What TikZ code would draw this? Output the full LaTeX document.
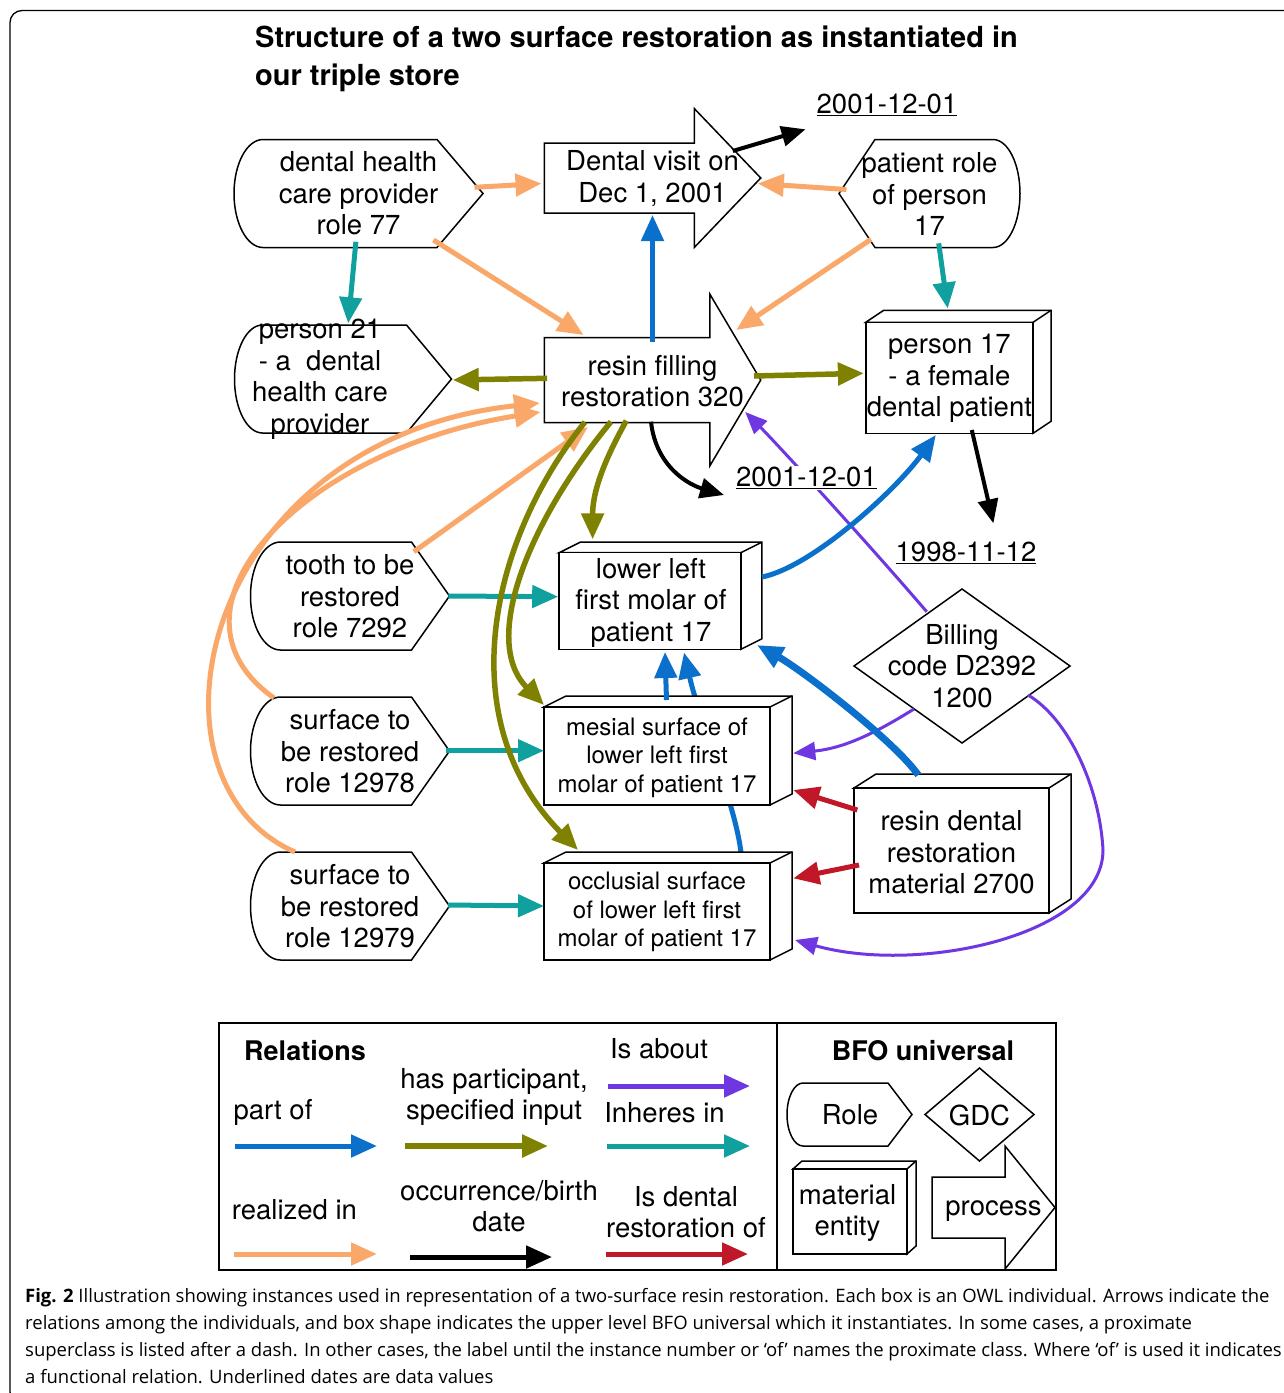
\documentclass[tikz,border=0pt]{standalone}
\usepackage{fontspec}
\setmainfont{TeX Gyre Heros}
\newfontfamily\capfont{Open Sans}
\usetikzlibrary{arrows.meta,calc}
\pgfdeclarelayer{bg}
\pgfsetlayers{bg,main}

\definecolor{corange}{RGB}{249,168,106}
\definecolor{cteal}{RGB}{16,160,158}
\definecolor{cblue}{RGB}{10,112,204}
\definecolor{colive}{RGB}{126,130,0}
\definecolor{cpurple}{RGB}{110,55,225}
\definecolor{cred}{RGB}{192,24,40}

\tikzset{
  shp/.style={draw=black, line width=1.5pt, fill=white, line join=miter},
  txt/.style={inner sep=0pt, align=center, font=\fontsize{27.5}{31.5}\selectfont},
  smalltxt/.style={inner sep=0pt, align=center, font=\fontsize{24}{28.5}\selectfont},
  datetxt/.style={inner sep=1.5pt, fill=white, font=\fontsize{27.5}{31.5}\selectfont},
  tip/.style={-{Triangle[length=26pt,width=22pt]}},
  ora/.style={draw=corange, line width=5pt, tip},
  tea/.style={draw=cteal, line width=5pt, tip},
  blu/.style={draw=cblue, line width=5pt, tip},
  oli/.style={draw=colive, line width=5.5pt, tip},
  blk/.style={draw=black, line width=4pt, -{Triangle[length=24pt,width=20pt]}},
  pur/.style={draw=cpurple, line width=3pt, -{Triangle[length=22pt,width=18pt]}},
  rd/.style={draw=cred, line width=5pt, tip},
}

% role: rounded left, pointed right: cx cy w h r p
\newcommand\roleR[6]{\draw[shp] ({#1-#3/2+#5},{#2-#4/2}) -- ({#1+#3/2-#6},{#2-#4/2}) -- ({#1+#3/2},#2) -- ({#1+#3/2-#6},{#2+#4/2}) -- ({#1-#3/2+#5},{#2+#4/2}) arc[start angle=90,end angle=270,x radius=#5,y radius={#4/2}] -- cycle;}
% role: pointed left, rounded right
\newcommand\roleL[6]{\draw[shp] ({#1-#3/2+#6},{#2-#4/2}) -- ({#1+#3/2-#5},{#2-#4/2}) arc[start angle=-90,end angle=90,x radius=#5,y radius={#4/2}] -- ({#1-#3/2+#6},{#2+#4/2}) -- ({#1-#3/2},#2) -- cycle;}
% process arrow: cx cy w h bodyhalf headlen
\newcommand\procShape[6]{\draw[shp] ({#1-#3/2},{#2-#5}) -- ({#1+#3/2-#6},{#2-#5}) -- ({#1+#3/2-#6},{#2-#4/2}) -- ({#1+#3/2},#2) -- ({#1+#3/2-#6},{#2+#4/2}) -- ({#1+#3/2-#6},{#2+#5}) -- ({#1-#3/2},{#2+#5}) -- cycle;}
% material box: cx cy w h dx dy (front face)
\newcommand\boxShape[6]{%
  \draw[shp] ({#1-#3/2},{#2-#4/2}) -- ++(#5,-#6) -- ++(#3,0) -- ++(0,#4) -- ++(-#5,#6) -- ({#1+#3/2},{#2-#4/2}) -- cycle;
  \draw[shp] ({#1+#3/2},{#2-#4/2}) -- ++(#5,-#6);
  \draw[shp] ({#1-#3/2},{#2-#4/2}) rectangle ({#1+#3/2},{#2+#4/2});}
% diamond: cx cy w h
\newcommand\gdcShape[4]{\draw[shp] (#1,{#2-#4/2}) -- ({#1+#3/2},#2) -- (#1,{#2+#4/2}) -- ({#1-#3/2},#2) -- cycle;}

\begin{document}
\begin{tikzpicture}[x=1pt,y=-1pt]
\useasboundingbox (0,0) rectangle (1284,1393);
\clip (0,0) rectangle (1284,1393);
\begin{pgfonlayer}{bg}
\fill[white] (0,0) rectangle (1284,1393);
\end{pgfonlayer}
\draw[line width=1.3pt, rounded corners=12pt] (1300,1404) -- (10,1404) -- (10,10.5) -- (1300,10.5);

\node[anchor=west, align=left, inner sep=0pt, font=\bfseries\fontsize{29}{38}\selectfont] (title) at (255,59) {Structure of a two surface restoration as instantiated in\\our triple store};

% ---------- shapes ----------
\roleR{358.5}{193.5}{249}{108}{29}{46}
\roleR{343}{379}{217}{108}{28}{45}
\roleL{929.5}{193.5}{181}{108}{27}{36}
\roleR{350}{596}{199}{108}{30}{38}
\roleR{350}{751}{199}{108}{30}{38}
\roleR{350}{906}{199}{108}{30}{38}
\procShape{652.5}{178}{216.5}{139}{35}{66.5}
\procShape{652.5}{380}{216.5}{172}{42.5}{51}
\boxShape{949.4}{377.8}{167.3}{111}{18}{12}
\boxShape{650}{601}{181.7}{96.6}{21}{10.5}
\boxShape{657}{756}{226}{98}{22}{11}
\boxShape{657}{911.5}{226}{97}{22}{11}
\boxShape{951.5}{850.5}{195}{125}{22}{14}
\gdcShape{962}{666}{216}{154}

% ---------- texts ----------
\node[txt] (r77) at (358.5,193.5) {dental health\\care provider\\role 77};
\node[txt] (p21) at (320,379) {person 21\\- a~~dental\\health care\\provider};
\node[txt] (prole) at (929.5,194) {patient role\\of person\\17};
\node[txt] (tooth) at (350,596.5) {tooth to be\\restored\\role 7292};
\node[txt] (s78) at (350,751.5) {surface to\\be restored\\role 12978};
\node[txt] (s79) at (350,906.5) {surface to\\be restored\\role 12979};
\node[txt] (visit) at (652.5,178.5) {Dental visit on\\Dec 1, 2001};
\node[txt] (resin) at (652.5,381) {resin filling\\restoration 320};
\node[txt] (p17) at (949.4,378.5) {person 17\\- a female\\dental patient};
\node[txt] (molar) at (651,602.5) {lower left\\first molar of\\patient 17};
\node[smalltxt] (mesial) at (657,757.5) {mesial surface of\\lower left first\\molar of patient 17};
\node[smalltxt] (occl) at (657,912) {occlusial surface\\of lower left first\\molar of patient 17};
\node[txt] (mat) at (951.5,852.5) {resin dental\\restoration\\material 2700};
\node[txt] (bill) at (962,666) {Billing\\code D2392\\1200};

% ---------- connectors ----------
\begin{pgfonlayer}{bg}
\draw[blu] ([shift={(84,-59.5)}]occl.center) .. controls +(-6,-50) and +(16,70) .. ([shift={(33,50)}]molar.center);
\end{pgfonlayer}

\draw[pur] ([shift={(-35.3,-54.3)}]bill.center) .. controls +(-60,-70) and +(30,30) .. ([shift={(92.7,31)}]resin.center);
\draw[pur] ([shift={(-48,43)}]bill.center) .. controls +(-40,25) and +(50,-5) .. ([shift={(136.3,-4.3)}]mesial.center);
\coordinate (pv) at (1103,850);
\draw[pur] ([shift={(66,29)}]bill.center) .. controls +(42,25) and +(-3,-60) .. (pv) .. controls +(0,85) and +(125,35) .. ([shift={(138,28)}]occl.center);

\draw[ora] ([shift={(116,-6.2)}]r77.center) -- ([shift={(-111,5)}]visit.center);
\draw[ora] ([shift={(75,46.5)}]r77.center) -- ([shift={(-69,-46)}]resin.center);
\draw[tea] ([shift={(-2.6,48.2)}]r77.center) -- ([shift={(28.2,-55.7)}]p21.center);
\draw[ora] ([shift={(-83,-4.5)}]prole.center) -- ([shift={(105.3,5)}]visit.center);
\draw[ora] ([shift={(-58.5,45.3)}]prole.center) -- ([shift={(83.7,-51)}]resin.center);
\draw[tea] ([shift={(9.2,49.3)}]prole.center) -- ([shift={(-1.7,-70)}]p17.center);
\draw[blu] ([shift={(0,-39)}]resin.center) -- ([shift={(0,36.5)}]visit.center);
\draw[oli] ([shift={(-105.3,-2.7)}]resin.center) -- ([shift={(132.7,1)}]p21.center);
\draw[oli] ([shift={(101.5,-5)}]resin.center) -- ([shift={(-85.5,-5.2)}]p17.center);

\node[datetxt] (d1) at (887,105) {\underline{2001-12-01}};
\node[datetxt] (d2) at (806.5,478) {\underline{2001-12-01}};
\node[datetxt] (d3) at (966,553) {\underline{1998-11-12}};

\draw[blk] ([shift={(80.3,-27.5)}]visit.center) -- ([shift={(-81.5,24.3)}]d1.center);
\draw[blk] ([shift={(22.4,51.5)}]p17.center) -- ([shift={(27.4,-29.7)}]d3.center);
\draw[blk] ([shift={(-1.5,40.7)}]resin.center) .. controls +(5,46) and +(-34,-10) .. ([shift={(-82.5,17)}]d2.center);

\draw[tea] ([shift={(98.3,-0.5)}]tooth.center) -- ([shift={(-92.8,-5.8)}]molar.center);
\draw[ora] ([shift={(63.9,-44.8)}]tooth.center) -- ([shift={(-64.5,46)}]resin.center);
\draw[tea] ([shift={(95.6,-0.8)}]s78.center) -- ([shift={(-113,-6.8)}]mesial.center);
\draw[tea] ([shift={(98,-1.5)}]s79.center) -- ([shift={(-113,-6)}]occl.center);

\draw[oli] ([shift={(-26.2,39.7)}]resin.center) .. controls +(-25,45) and +(0,-45) .. ([shift={(-58.4,-63.2)}]molar.center);
\draw[oli] ([shift={(-41.5,40.7)}]resin.center) .. controls +(-81,98) and +(-64,-65) .. ([shift={(-113,-52.5)}]mesial.center);
\draw[oli] ([shift={(-67.5,41)}]resin.center) .. controls +(-95,118) and +(-128,-130) .. ([shift={(-79,-62)}]occl.center);

\draw[ora] ([shift={(-76,-53.5)}]s78.center) .. controls +(-124,-88) and +(-240,38) .. ([shift={(-112,31)}]resin.center);
\draw[ora] ([shift={(-55,-54.5)}]s79.center) .. controls +(-165,-72) and +(-340,37) .. ([shift={(-112.5,22)}]resin.center);

\draw[blu] ([shift={(9.5,-57.5)}]mesial.center) -- ([shift={(14,49.5)}]molar.center);
\draw[blu] ([shift={(111,-25.5)}]molar.center) .. controls +(50,-10) and +(-40,55) .. ([shift={(-13.6,56.5)}]p17.center);
\draw[blu, line width=7pt] ([shift={(-33.2,-77.5)}]mat.center) .. controls +(-25,-35) and +(45,25) .. ([shift={(106,42.5)}]molar.center);

\draw[rd] ([shift={(-94.2,-42.5)}]mat.center) -- ([shift={(136.3,32.5)}]mesial.center);
\draw[rd] ([shift={(-92.5,12.5)}]mat.center) -- ([shift={(136.3,-33.7)}]occl.center);

% ---------- legend ----------
\draw[line width=1.5pt] (219,1023) rectangle (1056,1270);
\draw[line width=1.5pt] (777,1023) -- (777,1270);
\node[txt, font=\bfseries\fontsize{27}{31}\selectfont] (lrel) at (305,1051) {Relations};
\node[txt] (lpart) at (273,1112) {part of};
\node[txt] (lhas) at (494,1097) {has participant,\\specified input};
\node[txt] (labout) at (659,1049) {Is about};
\node[txt] (linh) at (664.5,1113) {Inheres in};
\node[txt] (lreal) at (294.5,1210) {realized in};
\node[txt] (locc) at (499,1206) {occurrence/birth\\date};
\node[txt] (lrest) at (686,1212) {Is dental\\restoration of};

\coordinate (lb1) at (235,1146); \coordinate (lb2) at (377,1146);
\coordinate (lo1) at (405,1146); \coordinate (lo2) at (548,1146);
\coordinate (lp1) at (608,1086); \coordinate (lp2) at (750,1086);
\coordinate (lt1) at (607,1146); \coordinate (lt2) at (750,1146);
\coordinate (la1) at (234,1254); \coordinate (la2) at (377,1254);
\coordinate (lk1) at (410,1257); \coordinate (lk2) at (552,1257);
\coordinate (lr1) at (606,1254); \coordinate (lr2) at (748,1254);
\draw[blu] (lb1) -- (lb2);
\draw[oli] (lo1) -- (lo2);
\draw[pur, line width=5pt, -{Triangle[length=26pt,width=22pt]}] (lp1) -- (lp2);
\draw[tea] (lt1) -- (lt2);
\draw[ora] (la1) -- (la2);
\draw[blk, line width=5pt, -{Triangle[length=26pt,width=22pt]}] (lk1) -- (lk2);
\draw[rd] (lr1) -- (lr2);

\node[txt, font=\bfseries\fontsize{27}{31}\selectfont] (lbfo) at (923,1051) {BFO universal};
\roleR{849.5}{1114.5}{125}{63}{16}{24}
\gdcShape{979.5}{1114.5}{109}{93}
\boxShape{850}{1211.5}{114}{85}{9}{8}
\procShape{993.5}{1207.5}{123}{123}{30.5}{50}
\node[txt] (lrole) at (850,1115) {Role};
\node[txt] (lgdc) at (979.5,1115) {GDC};
\node[txt] (lmat) at (847.5,1213) {material\\entity};
\node[txt] (lproc) at (993.5,1211) {process};

% ---------- caption ----------
\begin{scope}[every node/.style={anchor=base west, inner sep=0pt, font=\capfont\fontsize{18.5}{27}\selectfont}]
\node (cap1) at (25,1302) {\textbf{Fig. 2} Illustration showing instances used in representation of a two-surface resin restoration. Each box is an OWL individual. Arrows indicate the};
\node (cap2) at (25,1329) {relations among the individuals, and box shape indicates the upper level BFO universal which it instantiates. In some cases, a proximate};
\node (cap3) at (25,1356) {superclass is listed after a dash. In other cases, the label until the instance number or ‘of’ names the proximate class. Where ‘of’ is used it indicates};
\node (cap4) at (25,1383) {a functional relation. Underlined dates are data values};
\end{scope}
\end{tikzpicture}
\end{document}
